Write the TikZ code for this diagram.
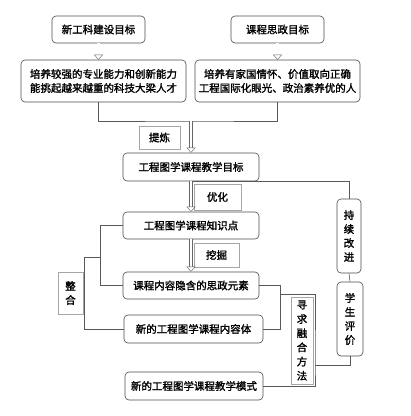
\documentclass[tikz,border=0pt]{standalone}
\usepackage{fontspec}
\setmainfont{Noto Sans CJK SC}[AutoFakeBold=1.6]
\usetikzlibrary{arrows.meta}

\begin{document}
\begin{tikzpicture}[x=1pt,y=-1pt,
    every node/.style={font=\fontsize{10.5}{14}\selectfont\bfseries},
    main node/.style={draw=black!70,semithick,rounded corners=4pt,fill=white,align=center,inner sep=0pt},
    tag node/.style={draw=black!35,semithick,fill=white,align=center,inner sep=0pt},
    link/.style={draw=black!65,semithick},
    dbl arrow/.style={draw=black!60,double,double distance=2.4pt,thin,-{Triangle[open,length=5pt,width=9pt]}}]
          \useasboundingbox (0,0) rectangle (411,416);

          % goals
          \node[main node,minimum width=93pt,minimum height=27pt] (1) at (98.5,29.5) {新工科建设目标};
          \node[main node,minimum width=93pt,minimum height=27pt] (2) at (277.5,29.5) {课程思政目标};
          \node[main node,minimum width=165pt,minimum height=42pt] (3) at (103.5,81) {培养较强的专业能力和创新能力\\能挑起越来越重的科技大梁人才};
          \node[main node,minimum width=165pt,minimum height=42pt] (4) at (277.5,81) {培养有家国情怀、价值取向正确\\工程国际化眼光、政治素养优的人};

          % main column
          \node[main node,minimum width=136pt,minimum height=28pt] (5) at (191,167) {工程图学课程教学目标};
          \node[main node,minimum width=136pt,minimum height=27pt] (6) at (191,225.5) {工程图学课程知识点};
          \node[main node,minimum width=136pt,minimum height=27pt] (7) at (191,285.5) {课程内容隐含的思政元素};
          \node[main node,minimum width=139pt,minimum height=28pt] (8) at (193.5,329) {新的工程图学课程内容体};
          \node[main node,minimum width=138pt,minimum height=28pt] (9) at (194,386) {新的工程图学课程教学模式};

          % right column
          \node[main node,minimum width=24pt,minimum height=74pt] (10) at (349,236) {持\\续\\改\\进};
          \node[main node,minimum width=26pt,minimum height=74pt] (11) at (350,319) {学\\生\\评\\价};

          % tags
          \node[tag node,minimum width=41pt,minimum height=23pt] (t1) at (159.5,137.5) {提炼};
          \node[tag node,minimum width=47pt,minimum height=26pt] (t2) at (217.5,197) {优化};
          \node[tag node,minimum width=45pt,minimum height=24pt] (t3) at (216.5,255) {挖掘};
          \node[tag node,minimum width=25pt,minimum height=42pt] (t4) at (70.5,293) {整\\合};
          \node[tag node,minimum width=22pt,minimum height=87pt,font=\fontsize{10.5}{14.2}\selectfont\bfseries] (t5) at (302,340.5) {寻\\求\\融\\合\\方\\法};

          \coordinate (m) at (191,121);
          \coordinate (j1) at (100,257);
          \coordinate (j2) at (280,294);
          \coordinate (j3) at (315,365);

          \draw[dbl arrow] (1.south) -- (1.south |- 3.north);
          \draw[dbl arrow] (2.south) -- (2.south |- 4.north);
          \draw[link] (1.south |- 3.south) |- (m) -| (2.south |- 4.south);
          \draw[dbl arrow] (m) -- (5.north);
          \draw[link] (5.south) -| (10.north);
          \draw[dbl arrow] (5.south) -- (6.north);
          \draw[dbl arrow] (6.south) -- (7.north);

          \draw[link] (6.west) -| (j1 |- 7.west) -- (7.west);
          \draw[link] (j1) -- ++(-16,0) |- (8.west);
          \draw[link] (7.east) -| (j2 |- 8.east) -- (8.east);
          \draw[link] (j2) -| (j3) |- (9.east);
          \draw[link] (10.south) -- (11.north);
          \draw[link] (11.south) |- (j3);

        \end{tikzpicture}
\end{document}
